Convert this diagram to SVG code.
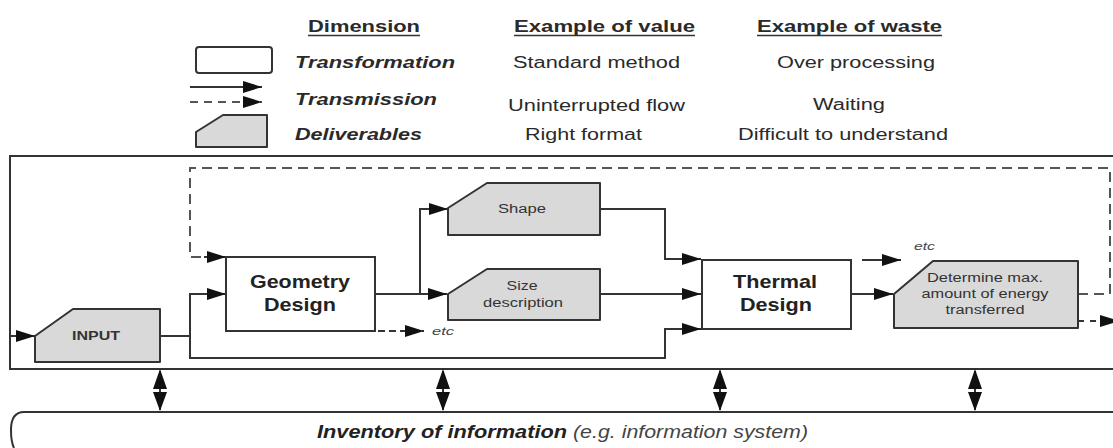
<svg xmlns="http://www.w3.org/2000/svg" width="1113" height="448" viewBox="0 0 1113 448">
<defs>
<marker id="arr" viewBox="0 0 19 12" refX="19" refY="6" markerWidth="19" markerHeight="12" markerUnits="userSpaceOnUse" orient="auto"><path d="M0,0 L19,6 L0,12 z" fill="#111"/></marker>
<g id="dbl"><line x1="0" y1="371" x2="0" y2="410" stroke="#333" stroke-width="2"/><path d="M0,369 L7,389 L-7,389 z M-7,392 L7,392 L0,411 z" fill="#111"/></g>
</defs>
<style>
text{font-family:"Liberation Sans",Arial,sans-serif;fill:#2a2a2a}
.hd{font-size:17px;font-weight:bold}
.dim{font-size:17px;font-weight:bold;font-style:italic}
.val{font-size:16px}
.big{font-size:19px;font-weight:bold;fill:#222}
.sm{font-size:12px;fill:#333}
.etc{font-size:11px;font-style:italic;fill:#444}
.ln{fill:none;stroke:#333;stroke-width:2}
.dash{fill:none;stroke:#555;stroke-width:2;stroke-dasharray:10,6}
.box{fill:#fff;stroke:#333;stroke-width:2}
.dlv{fill:#d9d9d9;stroke:#333;stroke-width:2;stroke-linejoin:round}
.ul{stroke:#333;stroke-width:1.5}
</style>

<g id="legend">
<text class="hd" x="308" y="32" textLength="112" lengthAdjust="spacingAndGlyphs">Dimension</text>
<line class="ul" x1="308" y1="35.5" x2="420" y2="35.5"/>
<text class="hd" x="514" y="32" textLength="181" lengthAdjust="spacingAndGlyphs">Example of value</text>
<line class="ul" x1="514" y1="35.5" x2="695" y2="35.5"/>
<text class="hd" x="757" y="32" textLength="185" lengthAdjust="spacingAndGlyphs">Example of waste</text>
<line class="ul" x1="757" y1="35.5" x2="942" y2="35.5"/>

<rect class="box" x="196" y="47" width="76" height="26" rx="3"/>
<text class="dim" x="295" y="68" textLength="160" lengthAdjust="spacingAndGlyphs">Transformation</text>
<text class="val" x="513" y="68" textLength="167" lengthAdjust="spacingAndGlyphs">Standard method</text>
<text class="val" x="777" y="68" textLength="158" lengthAdjust="spacingAndGlyphs">Over processing</text>

<line class="ln" x1="190" y1="87" x2="262" y2="87" marker-end="url(#arr)"/>
<line class="dash" x1="190" y1="102" x2="262" y2="102" style="stroke-dasharray:8,6" marker-end="url(#arr)"/>
<text class="dim" x="295" y="105" textLength="142" lengthAdjust="spacingAndGlyphs">Transmission</text>
<text class="val" x="508" y="111" textLength="177" lengthAdjust="spacingAndGlyphs">Uninterrupted flow</text>
<text class="val" x="813" y="110" textLength="72" lengthAdjust="spacingAndGlyphs">Waiting</text>

<polygon class="dlv" points="196,147 196,132 223,115 267,115 267,147"/>
<text class="dim" x="295" y="140" textLength="127" lengthAdjust="spacingAndGlyphs">Deliverables</text>
<text class="val" x="525" y="140" textLength="117" lengthAdjust="spacingAndGlyphs">Right format</text>
<text class="val" x="738" y="140" textLength="210" lengthAdjust="spacingAndGlyphs">Difficult to understand</text>
</g>

<g id="frame">
<rect x="10" y="156" width="1120" height="213" fill="none" stroke="#333" stroke-width="2"/>
</g>

<g id="connectors">
<path class="dash" d="M1078,294 H1110 V168 H190 V257 H206"/>
<line class="ln" x1="204" y1="257" x2="226" y2="257" marker-end="url(#arr)"/>
<path class="ln" d="M10,336 H35" marker-end="url(#arr)"/>
<path class="ln" d="M160,336 H190 V294 H226" marker-end="url(#arr)"/>
<path class="ln" d="M190,336 V358 H665 V329 H701" marker-end="url(#arr)"/>
<path class="ln" d="M375,294 H447" marker-end="url(#arr)"/>
<path class="ln" d="M420,294 V209 H448" marker-end="url(#arr)"/>
<path class="ln" d="M378,331 H424" style="stroke-dasharray:7,4" marker-end="url(#arr)"/>
<path class="ln" d="M600,209 H665 V259 H701" marker-end="url(#arr)"/>
<path class="ln" d="M600,294 H701" marker-end="url(#arr)"/>
<path class="ln" d="M851,294 H893" marker-end="url(#arr)"/>
<path class="ln" d="M862,260 H901" marker-end="url(#arr)"/>
<path class="ln" d="M1078,321 H1119" style="stroke-dasharray:6,6" marker-end="url(#arr)"/>
<use href="#dbl" x="160"/>
<use href="#dbl" x="443"/>
<use href="#dbl" x="720"/>
<use href="#dbl" x="975"/>
</g>

<g id="input">
<polygon class="dlv" points="35,362 35,336 73,309 160,309 160,362"/>
<text x="96" y="340" text-anchor="middle" style="font-size:13px;font-weight:bold;fill:#333" textLength="48" lengthAdjust="spacingAndGlyphs">INPUT</text>
</g>

<g id="geometry">
<rect class="box" x="226" y="257" width="149" height="74"/>
<text class="big" x="300" y="288" text-anchor="middle" textLength="100" lengthAdjust="spacingAndGlyphs">Geometry</text>
<text class="big" x="300" y="311" text-anchor="middle" textLength="72" lengthAdjust="spacingAndGlyphs">Design</text>
</g>

<g id="etc1">
<text class="etc" x="432" y="335" textLength="22" lengthAdjust="spacingAndGlyphs">etc</text>
</g>

<g id="shape">
<polygon class="dlv" points="448,235 448,208 487,183 600,183 600,235"/>
<text class="sm" x="522" y="213" text-anchor="middle" textLength="48" lengthAdjust="spacingAndGlyphs">Shape</text>
</g>

<g id="size">
<polygon class="dlv" points="448,320 448,294 487,269 600,269 600,320"/>
<text class="sm" x="522" y="290" text-anchor="middle" textLength="31" lengthAdjust="spacingAndGlyphs">Size</text>
<text class="sm" x="523" y="307" text-anchor="middle" textLength="80" lengthAdjust="spacingAndGlyphs">description</text>
</g>

<g id="thermal">
<rect class="box" x="702" y="260" width="149" height="69"/>
<text class="big" x="775" y="288" text-anchor="middle" textLength="84" lengthAdjust="spacingAndGlyphs">Thermal</text>
<text class="big" x="776" y="311" text-anchor="middle" textLength="72" lengthAdjust="spacingAndGlyphs">Design</text>
</g>

<g id="etc2">
<text class="etc" x="914" y="250" textLength="21" lengthAdjust="spacingAndGlyphs">etc</text>
</g>

<g id="determine">
<polygon class="dlv" points="894,328 894,294 933,261 1078,261 1078,328"/>
<text class="sm" x="985" y="282" text-anchor="middle" textLength="116" lengthAdjust="spacingAndGlyphs">Determine max.</text>
<text class="sm" x="985" y="298" text-anchor="middle" textLength="127" lengthAdjust="spacingAndGlyphs">amount of energy</text>
<text class="sm" x="985" y="314" text-anchor="middle" textLength="79" lengthAdjust="spacingAndGlyphs">transferred</text>
</g>

<g id="inventory">
<path d="M1113,412 H24 C14,412 11,420 11,430 C11,440 13,446 14,448" fill="none" stroke="#333" stroke-width="2"/>
<text x="317" y="438" style="font-size:18px;font-style:italic;font-weight:bold;fill:#222" textLength="250" lengthAdjust="spacingAndGlyphs">Inventory of information</text>
<text x="573" y="438" style="font-size:18px;font-style:italic;fill:#444" textLength="235" lengthAdjust="spacingAndGlyphs">(e.g. information system)</text>
</g>
</svg>
